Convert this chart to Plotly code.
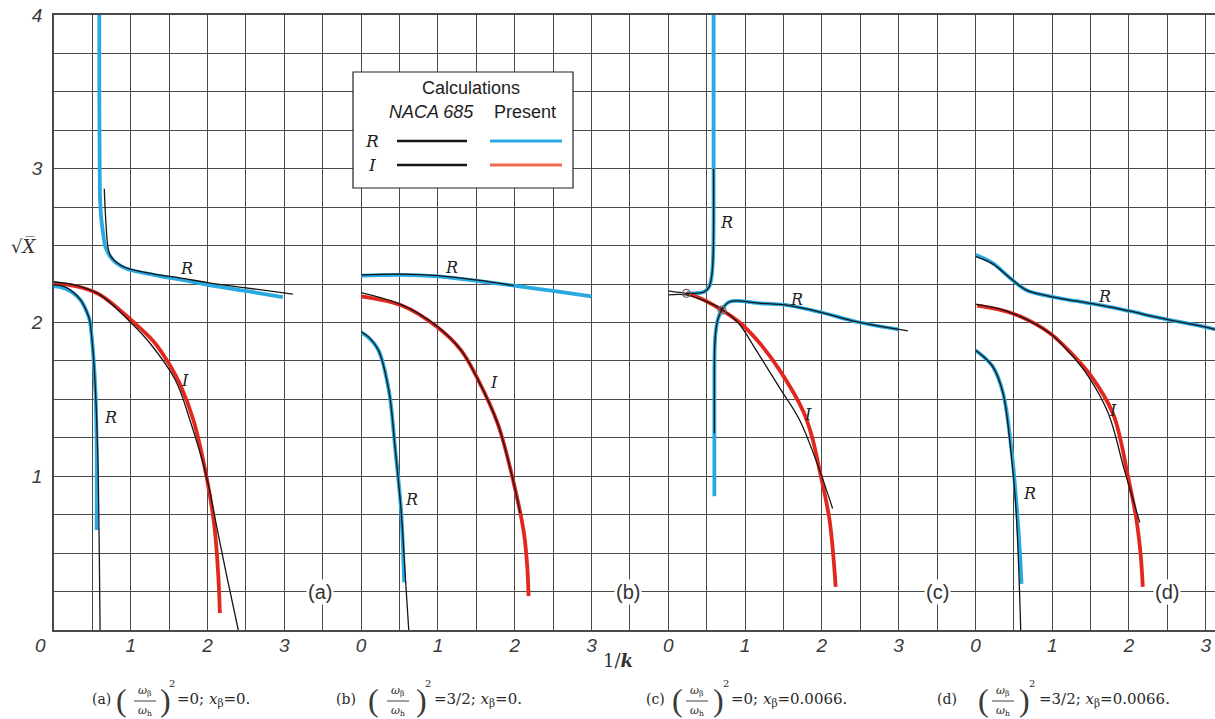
import plotly.graph_objects as go

# ---------------------------------------------------------------------------
# Data: sqrt(X) against 1/k for four parameter sets (a)-(d).
# "present" = present calculations, "naca" = NACA 685 calculations.
# R = real root branch, I = imaginary root branch.
# ---------------------------------------------------------------------------

# (a) (w_beta/w_h)^2 = 0 ; x_beta = 0
a_R1_present_x = [0.59, 0.59, 0.595, 0.60, 0.615, 0.64, 0.665, 0.73, 0.815, 0.945, 1.3, 1.64, 2.0, 2.5, 2.98]
a_R1_present_y = [4.0, 3.5, 3.0, 2.8, 2.68, 2.58, 2.50, 2.43, 2.385, 2.35, 2.31, 2.28, 2.245, 2.205, 2.165]
a_R1_naca_x = [0.655, 0.665, 0.68, 0.70, 0.73, 0.815, 0.945, 1.3, 1.64, 2.0, 2.5, 3.11]
a_R1_naca_y = [2.87, 2.75, 2.62, 2.50, 2.44, 2.39, 2.355, 2.315, 2.29, 2.26, 2.225, 2.185]
a_R2_present_x = [0.0, 0.15, 0.34, 0.45, 0.47, 0.51, 0.54, 0.555, 0.555]
a_R2_present_y = [2.235, 2.22, 2.15, 2.04, 2.0, 1.80, 1.55, 1.2, 0.65]
a_R2_naca_x = [0.0, 0.15, 0.34, 0.45, 0.47, 0.51, 0.545, 0.577, 0.59, 0.60]
a_R2_naca_y = [2.245, 2.23, 2.15, 2.04, 2.0, 1.80, 1.5, 1.0, 0.5, 0.0]
a_I_present_x = [0.0, 0.3, 0.6, 1.04, 1.30, 1.50, 1.64, 1.815, 1.985, 2.09, 2.14, 2.16]
a_I_present_y = [2.255, 2.235, 2.18, 2.0, 1.875, 1.73, 1.60, 1.366, 1.0, 0.67, 0.35, 0.11]
a_I_naca_x = [0.0, 0.3, 0.6, 1.0, 1.25, 1.58, 1.77, 1.985, 2.12, 2.25, 2.40]
a_I_naca_y = [2.265, 2.24, 2.18, 2.0, 1.865, 1.626, 1.366, 1.0, 0.67, 0.35, 0.0]

# (b) (w_beta/w_h)^2 = 3/2 ; x_beta = 0
b_R1_present_x = [0.0, 0.5, 1.0, 1.52, 1.99, 2.5, 3.0]
b_R1_present_y = [2.305, 2.31, 2.30, 2.27, 2.24, 2.205, 2.17]
b_R1_naca_x = [0.0, 0.5, 1.0, 1.52, 1.99]
b_R1_naca_y = [2.31, 2.315, 2.305, 2.275, 2.24]
b_R2_present_x = [0.0, 0.1, 0.225, 0.36, 0.445, 0.52, 0.56]
b_R2_present_y = [1.935, 1.90, 1.82, 1.56, 1.17, 0.78, 0.31]
b_R2_naca_x = [0.0, 0.1, 0.225, 0.36, 0.445, 0.52, 0.575, 0.62]
b_R2_naca_y = [1.94, 1.905, 1.82, 1.56, 1.17, 0.78, 0.35, 0.0]
b_I_present_x = [0.0, 0.53, 0.99, 1.3, 1.52, 1.78, 1.99, 2.12, 2.165, 2.18]
b_I_present_y = [2.17, 2.11, 1.97, 1.82, 1.63, 1.34, 0.95, 0.63, 0.40, 0.22]
b_I_naca_x = [0.0, 0.53, 0.99, 1.3, 1.52, 1.78, 1.99, 2.07]
b_I_naca_y = [2.195, 2.115, 1.975, 1.82, 1.63, 1.34, 0.95, 0.76]

# (c) (w_beta/w_h)^2 = 0 ; x_beta = 0.0066
c_R1_present_x = [0.235, 0.35, 0.47, 0.53, 0.565, 0.585, 0.59, 0.59]
c_R1_present_y = [2.19, 2.19, 2.20, 2.23, 2.30, 2.45, 3.0, 4.0]
c_R1_naca_x = [0.0, 0.235, 0.35, 0.47, 0.53, 0.565, 0.585, 0.59]
c_R1_naca_y = [2.205, 2.19, 2.19, 2.20, 2.23, 2.30, 2.45, 3.0]
c_R2_present_x = [0.60, 0.60, 0.605, 0.62, 0.645, 0.70, 0.80, 1.2, 1.58, 2.0, 2.45, 3.0]
c_R2_present_y = [0.87, 1.5, 1.85, 1.95, 2.02, 2.085, 2.135, 2.125, 2.11, 2.065, 2.005, 1.955]
c_R2_naca_x = [0.60, 0.60, 0.605, 0.62, 0.645, 0.70, 0.80, 1.2, 1.58, 2.0, 2.45, 3.12]
c_R2_naca_y = [1.28, 1.5, 1.85, 1.95, 2.02, 2.085, 2.135, 2.125, 2.11, 2.065, 2.005, 1.945]
c_I_present_x = [0.235, 0.45, 0.70, 0.93, 1.20, 1.45, 1.76, 1.87, 1.97, 2.10, 2.18]
c_I_present_y = [2.19, 2.15, 2.08, 2.0, 1.86, 1.69, 1.42, 1.26, 1.04, 0.715, 0.28]
c_I_naca_x = [0.0, 0.235, 0.45, 0.70, 0.915, 1.15, 1.45, 1.71, 1.97, 2.14]
c_I_naca_y = [2.18, 2.18, 2.145, 2.085, 1.995, 1.815, 1.575, 1.366, 1.04, 0.79]
c_branch_x = [0.235, 0.70]
c_branch_y = [2.19, 2.08]

# (d) (w_beta/w_h)^2 = 3/2 ; x_beta = 0.0066
d_R1_present_x = [0.0, 0.23, 0.45, 0.665, 0.97, 1.3, 1.66, 2.0, 2.4, 3.0, 3.12]
d_R1_present_y = [2.44, 2.385, 2.29, 2.21, 2.17, 2.14, 2.11, 2.075, 2.03, 1.97, 1.955]
d_R1_naca_x = [0.0, 0.23, 0.45, 0.665, 0.97, 1.3, 1.66, 2.0, 2.4, 3.0, 3.12]
d_R1_naca_y = [2.43, 2.38, 2.29, 2.21, 2.17, 2.14, 2.11, 2.075, 2.03, 1.97, 1.955]
d_R2_present_x = [0.0, 0.1, 0.23, 0.36, 0.47, 0.53, 0.58, 0.60]
d_R2_present_y = [1.82, 1.78, 1.71, 1.54, 1.17, 0.85, 0.5, 0.30]
d_R2_naca_x = [0.0, 0.1, 0.23, 0.36, 0.46, 0.52, 0.56, 0.59]
d_R2_naca_y = [1.82, 1.78, 1.71, 1.54, 1.17, 0.85, 0.45, 0.0]
d_I_present_x = [0.02, 0.3, 0.58, 0.97, 1.25, 1.51, 1.79, 1.90, 1.97, 2.09, 2.15, 2.18]
d_I_present_y = [2.11, 2.085, 2.04, 1.93, 1.80, 1.65, 1.41, 1.214, 1.04, 0.74, 0.5, 0.28]
d_I_naca_x = [0.0, 0.3, 0.58, 0.97, 1.25, 1.47, 1.73, 1.94, 2.14]
d_I_naca_y = [2.12, 2.09, 2.04, 1.93, 1.79, 1.65, 1.41, 1.04, 0.70]

# Tick labels
x_ticks = [0, 1, 2, 3]
y_ticks = [1, 2, 3, 4]

# Curve labels: (axis, x, y, text)
curve_labels = [
    ("x", 1.72, 2.35, "R"), ("x", 1.71, 1.62, "I"), ("x", 0.73, 1.38, "R"),
    ("x2", 1.18, 2.36, "R"), ("x2", 1.73, 1.61, "I"), ("x2", 0.66, 0.85, "R"),
    ("x3", 0.76, 2.65, "R"), ("x3", 1.67, 2.15, "R"), ("x3", 1.82, 1.40, "I"),
    ("x4", 1.68, 2.17, "R"), ("x4", 1.79, 1.43, "I"), ("x4", 0.70, 0.89, "R"),
]
panel_tags = [("x", 3.46, "(a)"), ("x2", 3.47, "(b)"), ("x3", 3.5, "(c)"), ("x4", 2.5, "(d)")]

# Captions: (tag, ratio value, x_beta value)
captions = [("(a)", "0", "0."), ("(b)", "3/2", "0."), ("(c)", "0", "0.0066."), ("(d)", "3/2", "0.0066.")]

# ---------------------------------------------------------------------------
BLUE = "#29a9e1"
RED = "#e2271f"
LEG_RED = "#ee6b50"
INK = "#161616"
GRID = "#4a4a4a"
W, H = 1215, 719
ML, MT, MB = 54, 15, 89
PW, PH = W - ML, H - MT - MB
SPAN = 15.12  # total 1/k units across the four side-by-side panels


def px(xp):
    return (xp - ML) / PW


def py(yp):
    return (H - MB - yp) / PH


fig = go.Figure()

series = {
    "x": [(a_R1_present_x, a_R1_present_y, a_R1_naca_x, a_R1_naca_y),
          (a_R2_present_x, a_R2_present_y, a_R2_naca_x, a_R2_naca_y),
          (a_I_present_x, a_I_present_y, a_I_naca_x, a_I_naca_y)],
    "x2": [(b_R1_present_x, b_R1_present_y, b_R1_naca_x, b_R1_naca_y),
           (b_R2_present_x, b_R2_present_y, b_R2_naca_x, b_R2_naca_y),
           (b_I_present_x, b_I_present_y, b_I_naca_x, b_I_naca_y)],
    "x3": [(c_R1_present_x, c_R1_present_y, c_R1_naca_x, c_R1_naca_y),
           (c_R2_present_x, c_R2_present_y, c_R2_naca_x, c_R2_naca_y),
           (c_I_present_x, c_I_present_y, c_I_naca_x, c_I_naca_y)],
    "x4": [(d_R1_present_x, d_R1_present_y, d_R1_naca_x, d_R1_naca_y),
           (d_R2_present_x, d_R2_present_y, d_R2_naca_x, d_R2_naca_y),
           (d_I_present_x, d_I_present_y, d_I_naca_x, d_I_naca_y)],
}

# coloured "present" curves first, thin NACA curves on top
for ax, groups in series.items():
    for i, (xp_, yp_, xn, yn) in enumerate(groups):
        col = RED if i == 2 else BLUE
        fig.add_trace(go.Scatter(x=xp_, y=yp_, xaxis=ax, yaxis="y", mode="lines",
                                 line=dict(color=col, width=3.8, shape="spline", smoothing=1.0),
                                 showlegend=False, hoverinfo="skip"))
for ax, groups in series.items():
    for xp_, yp_, xn, yn in groups:
        fig.add_trace(go.Scatter(x=xn, y=yn, xaxis=ax, yaxis="y", mode="lines",
                                 line=dict(color=INK, width=1.3, shape="spline", smoothing=1.0),
                                 showlegend=False, hoverinfo="skip"))

fig.add_trace(go.Scatter(x=c_branch_x, y=c_branch_y, xaxis="x3", yaxis="y", mode="markers",
                         marker=dict(symbol="circle-open", size=8, color="#6d6d6d", line=dict(width=1.2)),
                         showlegend=False, hoverinfo="skip"))

TICKFONT = dict(family="Liberation Sans", size=19, color="#3a3a3a", style="italic")


def xaxis_cfg(domain, rng, ticks):
    return dict(domain=domain, range=rng, anchor="y",
                tickmode="array", tickvals=ticks, ticktext=[str(t) for t in ticks],
                showgrid=True, gridcolor=GRID, gridwidth=1.1,
                minor=dict(tickmode="linear", tick0=0, dtick=0.5, showgrid=True,
                           gridcolor=GRID, gridwidth=1.1),
                zeroline=True, zerolinecolor=GRID, zerolinewidth=1.3,
                showline=True, linecolor=GRID, linewidth=1.6, mirror=True,
                ticks="", tickfont=TICKFONT, ticklabelstandoff=-3, fixedrange=True)


d1, d2, d3 = 4 / SPAN, 8 / SPAN, 12 / SPAN
fig.update_layout(
    width=W, height=H,
    margin=dict(l=ML, r=0, t=MT, b=MB, pad=0),
    paper_bgcolor="white", plot_bgcolor="white",
    xaxis=xaxis_cfg([0, d1], [0, 4], x_ticks[1:]),
    xaxis2=xaxis_cfg([d1, d2], [0, 4], x_ticks),
    xaxis3=xaxis_cfg([d2, d3], [0, 4], x_ticks),
    xaxis4=xaxis_cfg([d3, 1], [0, SPAN - 12], x_ticks),
    yaxis=dict(domain=[0, 1], range=[0, 4], anchor="x",
               tickmode="array", tickvals=y_ticks, ticktext=[str(t) for t in y_ticks],
               showgrid=True, gridcolor=GRID, gridwidth=1.1,
               minor=dict(tickmode="linear", tick0=0, dtick=0.25, showgrid=True,
                          gridcolor=GRID, gridwidth=1.1),
               zeroline=True, zerolinecolor=GRID, zerolinewidth=1.3,
               showline=True, linecolor=GRID, linewidth=1.6,
               ticks="", tickfont=TICKFONT, ticklabelstandoff=6, fixedrange=True),
)

ann = []
shapes = []

# origin label shared by both axes of panel (a)
ann.append(dict(xref="paper", yref="paper", x=px(40), y=py(645), text="0", showarrow=False,
                font=TICKFONT, xanchor="center", yanchor="middle"))

SERIF = "DejaVu Serif"
for ax, x, y, t in curve_labels:
    ann.append(dict(xref=ax, yref="y", x=x, y=y, text=f"<i>{t}</i>", showarrow=False,
                    font=dict(family=SERIF, size=16, color="#222"), xanchor="center", yanchor="middle"))
for ax, x, t in panel_tags:
    ann.append(dict(xref=ax, yref="y", x=x, y=0.25, text=t, showarrow=False,
                    font=dict(family="Liberation Sans", size=20, color="#333"),
                    bgcolor="white", borderpad=1, xanchor="center", yanchor="middle"))

# axis titles
ann.append(dict(xref="paper", yref="paper", x=px(23), y=py(246), text="√<i>X̅</i>", showarrow=False,
                font=dict(family=SERIF, size=18, color="#333"), xanchor="center", yanchor="middle"))
ann.append(dict(xref="paper", yref="paper", x=px(618), y=py(660), text="1/<b><i>k</i></b>", showarrow=False,
                font=dict(family=SERIF, size=18, color="#333"), xanchor="center", yanchor="middle"))

# legend box
shapes.append(dict(type="rect", xref="paper", yref="paper", x0=px(353), x1=px(573), y0=py(188), y1=py(72),
                   line=dict(color="#222", width=1.2), fillcolor="white", layer="above"))
LEGFONT = dict(family="Liberation Sans", size=18, color="#1e1e1e")
ann += [
    dict(xref="paper", yref="paper", x=px(471), y=py(88), text="Calculations", showarrow=False,
         font=LEGFONT, xanchor="center", yanchor="middle"),
    dict(xref="paper", yref="paper", x=px(431), y=py(112), text="<i>NACA 685</i>", showarrow=False,
         font=LEGFONT, xanchor="center", yanchor="middle"),
    dict(xref="paper", yref="paper", x=px(525), y=py(112), text="Present", showarrow=False,
         font=LEGFONT, xanchor="center", yanchor="middle"),
    dict(xref="paper", yref="paper", x=px(372), y=py(141), text="<i>R</i>", showarrow=False,
         font=dict(family=SERIF, size=17, color="#1e1e1e"), xanchor="center", yanchor="middle"),
    dict(xref="paper", yref="paper", x=px(372), y=py(165), text="<i>I</i>", showarrow=False,
         font=dict(family=SERIF, size=17, color="#1e1e1e"), xanchor="center", yanchor="middle"),
]
for yy, col in [(141, BLUE), (165, LEG_RED)]:
    shapes.append(dict(type="line", xref="paper", yref="paper", x0=px(397), x1=px(467), y0=py(yy), y1=py(yy),
                       line=dict(color=INK, width=2.6), layer="above"))
    shapes.append(dict(type="line", xref="paper", yref="paper", x0=px(490), x1=px(562), y0=py(yy), y1=py(yy),
                       line=dict(color=col, width=2.8), layer="above"))

# captions below the panels
CAPCOL = "#2a2a2a"
CAPFONT = dict(family=SERIF, size=15, color=CAPCOL)
cap_x = [(101, 121, 145, 165, 172, 175), (346, 373, 398, 421, 428, 432),
         (655, 677, 697, 718, 726, 729), (947, 983, 1003, 1024, 1032, 1037)]
for (tag, ratio, xb), (xt, xo, xf, xc, x2, xe) in zip(captions, cap_x):
    ann += [
        dict(xref="paper", yref="paper", x=px(xt), y=py(699), text=tag, showarrow=False,
             font=dict(family=SERIF, size=14, color=CAPCOL), xanchor="center", yanchor="middle"),
        dict(xref="paper", yref="paper", x=px(xo), y=py(700), text="(", showarrow=False,
             font=dict(family="Liberation Serif", size=32, color="#3a3a3a"), xanchor="center", yanchor="middle"),
        dict(xref="paper", yref="paper", x=px(xc), y=py(700), text=")", showarrow=False,
             font=dict(family="Liberation Serif", size=32, color="#3a3a3a"), xanchor="center", yanchor="middle"),
        dict(xref="paper", yref="paper", x=px(xf), y=py(691), text="<i>ω</i><sub>β</sub>", showarrow=False,
             font=dict(family=SERIF, size=11, color=CAPCOL), xanchor="center", yanchor="middle"),
        dict(xref="paper", yref="paper", x=px(xf), y=py(711), text="<i>ω</i><sub>h</sub>", showarrow=False,
             font=dict(family=SERIF, size=11, color=CAPCOL), xanchor="center", yanchor="middle"),
        dict(xref="paper", yref="paper", x=px(x2), y=py(683), text="2", showarrow=False,
             font=dict(family=SERIF, size=10, color=CAPCOL), xanchor="center", yanchor="middle"),
        dict(xref="paper", yref="paper", x=px(xe), y=py(699),
             text=f"={ratio}; <i>x</i><sub>β</sub>={xb}", showarrow=False,
             font=CAPFONT, xanchor="left", yanchor="middle"),
    ]
    shapes.append(dict(type="line", xref="paper", yref="paper", x0=px(xf - 11), x1=px(xf + 11),
                       y0=py(701), y1=py(701), line=dict(color=CAPCOL, width=0.9)))

fig.update_layout(annotations=ann, shapes=shapes)
fig.write_html("out.html")
